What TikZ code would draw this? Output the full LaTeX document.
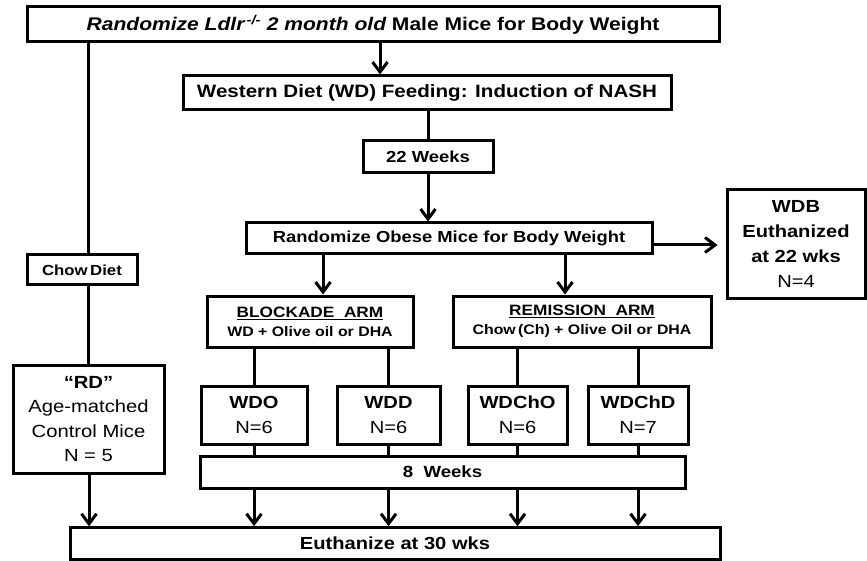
\documentclass[tikz,border=0pt]{standalone}
\usepackage{fontspec}
\setmainfont{Liberation Sans}[FakeStretch=1.15]
\usetikzlibrary{arrows.meta}
\begin{document}
\begin{tikzpicture}[x=1pt,y=-1pt,
  box/.style={draw, line width=3pt, rectangle, inner sep=0pt, align=center},
  ln/.style={line width=3pt},
  arr/.style={ln, -{Straight Barb[length=10pt,width=15pt,line width=3pt]}}]
\useasboundingbox (0,0) rectangle (867,561);
% boxes
\node[box, minimum width=692pt, minimum height=35pt, font=\fontsize{18.3}{20}\selectfont\bfseries] (top) at (373,24.5)
  {{\itshape Randomize Ldlr\textsuperscript{\,-/-} 2 month old} Male Mice for Body Weight};
\node[box, minimum width=488pt, minimum height=34pt, font=\fontsize{17.9}{19}\selectfont\bfseries] (wd) at (427,93)
  {Western Diet (WD) Feeding: Induction of NASH};
\node[box, minimum width=130pt, minimum height=32pt, font=\fontsize{16}{18}\selectfont\bfseries] (w22) at (428,157)
  {22 Weeks};
\node[box, minimum width=406pt, minimum height=31pt, font=\fontsize{16}{17}\selectfont\bfseries] (obese) at (449,238.5)
  {Randomize Obese Mice for Body Weight};
\node[box, minimum width=138pt, minimum height=108pt, font=\fontsize{17.5}{25}\selectfont] (wdb) at (796,244)
  {\textbf{WDB}\\\textbf{Euthanized}\\\textbf{at 22 wks}\\N=4};
\node[box, minimum width=110pt, minimum height=30pt, font=\fontsize{14.6}{16}\selectfont\bfseries] (chow) at (82,270)
  {Chow\,Diet};
\node[box, minimum width=151pt, minimum height=108pt, font=\fontsize{17.6}{24.5}\selectfont] (rd) at (88.5,419)
  {\textbf{“RD”}\\Age-matched\\Control Mice\\N = 5};
\node[box, minimum width=206pt, minimum height=51pt, font=\fontsize{13.8}{19}\selectfont\bfseries] (blockade) at (310,321.5)
  {{\fontsize{15}{19}\selectfont\underline{BLOCKADE\ \ ARM}}\\WD + Olive oil or DHA};
\node[box, minimum width=258pt, minimum height=51pt, font=\fontsize{13.8}{19}\selectfont\bfseries] (remission) at (582,321.5)
  {{\fontsize{15}{19}\selectfont\underline{REMISSION\ \ ARM}}\\Chow\,(Ch) + Olive Oil or DHA};
\node[box, minimum width=106pt, minimum height=58pt, font=\fontsize{17.5}{25}\selectfont] (wdo) at (254,415)
  {\textbf{WDO}\\N=6};
\node[box, minimum width=103pt, minimum height=58pt, font=\fontsize{17.5}{25}\selectfont] (wdd) at (388.5,415)
  {\textbf{WDD}\\N=6};
\node[box, minimum width=99pt, minimum height=58pt, font=\fontsize{17.5}{25}\selectfont] (wdcho) at (517.5,415)
  {\textbf{WDChO}\\N=6};
\node[box, minimum width=100pt, minimum height=58pt, font=\fontsize{17.5}{25}\selectfont] (wdchd) at (638,415)
  {\textbf{WDChD}\\N=7};
\node[box, minimum width=485pt, minimum height=32pt, font=\fontsize{16.2}{18}\selectfont\bfseries] (w8) at (442.5,472)
  {8\ \ Weeks};
\node[box, minimum width=650pt, minimum height=31.5pt, font=\fontsize{17.5}{20}\selectfont\bfseries] (euth) at (395,543.5)
  {Euthanize at 30 wks};
% connectors
\draw[arr] (top.south -| 380,0) -- (wd.north -| 380,0);
\draw[ln] (top.south -| 88,0) -- (chow.north -| 88,0);
\draw[ln] (chow.south -| 88,0) -- (rd.north -| 88,0);
\draw[arr] (rd.south -| 89,0) -- (euth.north -| 89,0);
\draw[ln] (w22.north |- wd.south) -- (w22.north);
\draw[arr] (w22.south) -- (obese.north -| w22.south);
\draw[arr, shorten >=8pt] (obese.east |- 0,245) -- (wdb.west |- 0,245);
\draw[arr] (obese.south -| 323,0) -- (blockade.north -| 323,0);
\draw[arr] (obese.south -| 565,0) -- (remission.north -| 565,0);
\draw[ln] (blockade.south -| wdo.north) -- (wdo.north);
\draw[ln] (blockade.south -| wdd.north) -- (wdd.north);
\draw[ln] (remission.south -| wdcho.north) -- (wdcho.north);
\draw[ln] (remission.south -| wdchd.north) -- (wdchd.north);
\foreach \n in {wdo,wdd,wdcho,wdchd}{
  \draw[ln] (\n.south) -- (w8.north -| \n.south);
  \draw[arr] (w8.south -| \n.south) -- (euth.north -| \n.south);
}
\end{tikzpicture}
\end{document}
